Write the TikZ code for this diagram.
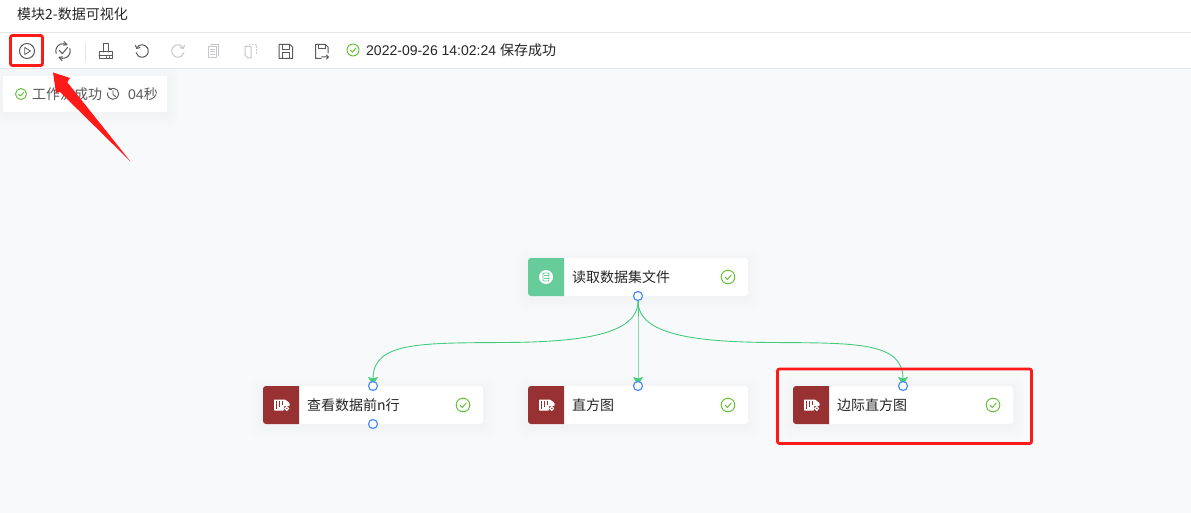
\documentclass[tikz,border=0pt]{standalone}
\usepackage{fontspec}
\setmainfont{Liberation Sans}
\newfontfamily\cjk{Noto Sans CJK SC}
\usetikzlibrary{arrows.meta}
\definecolor{ink}{HTML}{262626}
\definecolor{greyic}{HTML}{595959}
\definecolor{lightic}{HTML}{C4C6CC}
\definecolor{canvas}{HTML}{F8F9FB}
\definecolor{rule}{HTML}{E3E4E8}
\definecolor{okgreen}{HTML}{67C23A}
\definecolor{edge}{HTML}{45CB7C}
\definecolor{edgesoft}{HTML}{86DCAA}
\definecolor{port}{HTML}{4A8CFF}
\definecolor{wine}{HTML}{983232}
\definecolor{mint}{HTML}{66CC99}
\definecolor{redmark}{HTML}{FF1A1A}
\pgfdeclarelayer{portlayer}
\pgfsetlayers{main,portlayer}
\tikzset{
  x=1pt,y=-1pt,
  lbl/.style={font=\cjk\fontsize{14}{16}\selectfont,text=ink,inner sep=0pt,anchor=west},
  portdot/.style={circle,draw=port,fill=white,line width=1.2pt,minimum size=9pt,inner sep=0pt},
  edgeline/.style={draw=edge,line width=.9pt},
  edgearrow/.style={edgeline,shorten >=1pt,-{Stealth[length=8pt,width=10pt,inset=1.5pt,color=edge,fill=edge]}},
  cardbody/.style={fill=white,rounded corners=3pt},
  marker/.style={draw=redmark,line width=2.8pt,rounded corners=2pt},
  icn/.style={draw=greyic,line width=1pt,line cap=round,line join=round},
  icl/.style={draw=lightic,line width=1pt,line cap=round,line join=round},
  okmark/.style={draw=okgreen,line width=1pt,line cap=round,line join=round},
}
\newcommand{\softshadow}[4]{% x1 y1 x2 y2
  \foreach \s in {12,10,8,6,4,2}{
    \fill[black,opacity=.004,rounded corners=7pt] (#1-\s,#2-\s+3) rectangle (#3+\s,#4+\s+3);
  }
}
\newcommand{\okicon}[3]{% x y r
  \draw[okmark] (#1,#2) circle (#3);
  \draw[okmark] (#1-#3*.45,#2+#3*.02) -- (#1-#3*.1,#2+#3*.36) -- (#1+#3*.48,#2-#3*.3);
}
\newcommand{\chart}[2]{% left edge x, centre y
  \fill[white,rounded corners=.6pt] (#1,#2-5.5) -- (#1+11,#2-5.5) -- (#1+15.5,#2-2) -- (#1+15.5,#2+1) -- (#1+10,#2+1) -- (#1+10,#2+5.5) -- (#1,#2+5.5) -- cycle;
  \fill[wine] (#1+2,#2-4.5) rectangle (#1+3.3,#2+3.5);
  \fill[wine] (#1+5,#2-4.5) rectangle (#1+6.3,#2+1.5);
  \fill[wine] (#1+8,#2-4.5) rectangle (#1+9.3,#2-.5);
  \draw[white,line width=1.2pt] (#1+12.8,#2+3.5) circle (1.8);
}
\newcommand{\card}[5]{% name x y colour label
  \softshadow{#2}{#3}{#2+220}{#3+38}
  \fill[cardbody] (#2,#3) rectangle (#2+220,#3+38);
  \fill[#4] (#2+36,#3) [rounded corners=3pt] -- (#2,#3) -- (#2,#3+38) [sharp corners] -- (#2+36,#3+38) -- cycle;
  \node[lbl] (#1) at (#2+44,#3+19) {#5};
  \okicon{#2+200}{#3+19}{6.8}
}
\begin{document}
\begin{tikzpicture}
\useasboundingbox (0,0) rectangle (1191,513);
\fill[white] (0,0) rectangle (1191,513);
\fill[canvas] (0,69) rectangle (1191,513);
\draw[rule,line width=1pt] (0,32.5) -- (1191,32.5);
\draw[rule,line width=1pt] (0,68.5) -- (1191,68.5);
\node[lbl] (title) at (17,14) {模块2-数据可视化};

% run
\draw[icn] (27,51) circle (7.5);
\draw[icn,line width=.8pt] (24.8,47.5) -- (30.5,51) -- (24.8,54.5) -- cycle;
% validate
\draw[icn] (56.2,53.5) arc[start angle=200,end angle=60,radius=7.3pt];
\draw[icn] (69.8,48.5) arc[start angle=20,end angle=-120,radius=7.3pt];
\draw[icn] (64,41.5) -- (67,44.6) -- (63.5,45.2);
\draw[icn] (62,60.5) -- (59,57.4) -- (62.5,56.8);
\draw[icn] (59.5,50.5) -- (62.3,53.7) -- (67.5,47.5);
% separator
\draw[draw=rule,line width=1pt] (85.7,43) -- (85.7,62);
% brush
\draw[icn] (103,52) -- (103,44) -- (108,44) -- (108,52);
\draw[icn] (99,52) -- (112.5,52) -- (112.5,59) -- (99,59) -- cycle;
\draw[icn] (99,56) -- (112.5,56);
\draw[icn,line width=.8pt] (106.5,56.5) -- (106.5,58.5) (109.5,56.5) -- (109.5,58.5);
% undo / redo
\draw[icn] (137,47.5) arc[start angle=145,end angle=-165,radius=6.2pt];
\draw[icn] (135.5,45.5) -- (136.7,48.5) -- (140,47.5);
\draw[icl] (183,47.5) arc[start angle=35,end angle=345,radius=6.2pt];
\draw[icl] (184.5,45.5) -- (183.3,48.5) -- (180,47.5);
% copy / paste
\draw[icl] (208.5,46.5) rectangle (216.5,58);
\draw[icl] (210.5,44.5) -- (218.5,44.5) -- (218.5,56);
\draw[icl] (210.5,49.5) -- (214.5,49.5) (210.5,52) -- (214.5,52) (210.5,54.5) -- (214.5,54.5);
\draw[icl] (245,46.5) -- (251,46.5) -- (251,58) -- (248,58) -- (245,55) -- cycle;
\draw[icl,dotted] (249,44.5) -- (256,44.5) -- (256,55);
% save
\draw[icn] (279,44.5) -- (290,44.5) -- (292.5,47) -- (292.5,58.5) -- (279,58.5) -- cycle;
\draw[icn] (282.5,44.5) -- (282.5,49.5) -- (289,49.5) -- (289,44.5) (282.5,58.5) -- (282.5,53) -- (289,53) -- (289,58.5);
% save as
\draw[icn] (328,53) -- (328,47) -- (325.5,44.5) -- (315.5,44.5) -- (315.5,58.5) -- (321,58.5);
\draw[icn] (318.5,44.5) -- (318.5,49) -- (325,49) -- (325,44.5);
\draw[icn] (321.5,57) -- (328.5,57) (326.5,55) -- (328.5,57) -- (326.5,59);
% save status
\okicon{353}{50}{6}
\node[lbl,font=\fontsize{14}{16}\selectfont] (status) at (366,50.5) {2022-09-26 14:02:24 {\cjk 保存成功}};

% workflow popup
\softshadow{3}{76}{167}{112}
\fill[white,rounded corners=1pt] (3,76) rectangle (167,112);
\okicon{21}{94}{5.5}
\node[lbl,text=greyic] (flow) at (32,94) {工作流成功};
\draw[icn,line width=.9pt] (109.5,89.5) arc[start angle=130,end angle=-190,radius=5.6pt];
\draw[icn,line width=.9pt] (113,90.5) -- (113,94.5) -- (115.5,96.5) (108.5,88) -- (111.5,89.5);
\node[lbl,text=greyic] (dur) at (128,94) {{\fontsize{14}{16}\selectfont\normalfont 04}秒};

% cards
\card{readlbl}{528}{258}{mint}{读取数据集文件}
\fill[white] (546,277) circle (7);
\draw[mint,line width=.8pt,rounded corners=1pt] (543,273) rectangle (549,281);
\draw[mint,line width=.7pt] (543.5,275.5) -- (548.5,275.5) (543.5,278.5) -- (548.5,278.5);
\card{headlbl}{263}{386}{wine}{查看数据前n行}
\chart{274}{405}
\card{histlbl}{528}{386}{wine}{直方图}
\chart{539}{405}
\card{marglbl}{793}{386}{wine}{边际直方图}
\chart{804}{405}

% ports (on a layer above the connectors)
\begin{pgfonlayer}{portlayer}
\node[portdot] (pread) at (638,296) {};
\node[portdot] (phead) at (373,386) {};
\node[portdot] (pheadout) at (373,424) {};
\node[portdot] (phist) at (638,386) {};
\node[portdot] (pmarg) at (903,386) {};
\end{pgfonlayer}

% connectors
\draw[edgearrow,draw=edgesoft] (pread.south) -- (phist.center);
\draw[edgearrow] (pread.south) .. controls (638,335) and (580,342) .. (505,342.5) .. controls (420,343) and (373,342) .. (phead.center);
\draw[edgearrow] (pread.south) .. controls (638,335) and (696,342) .. (771,342.5) .. controls (856,343) and (903,342) .. (pmarg.center);
\coordinate (stem) at (638,316);
\draw[edgeline] (pread.south) -- (stem);

% red annotations
\coordinate (boxa) at (10.5,35.5);
\draw[marker] (boxa) rectangle (42.5,65.5);
\coordinate (boxb) at (777.5,369);
\draw[marker] (boxb) rectangle (1031.5,443.5);
\fill[redmark] (53,72.5) -- (70,78) -- (67.3,82.3) -- (130.5,161.5) -- (60,92) -- (56,93) -- cycle;
\end{tikzpicture}
\end{document}
